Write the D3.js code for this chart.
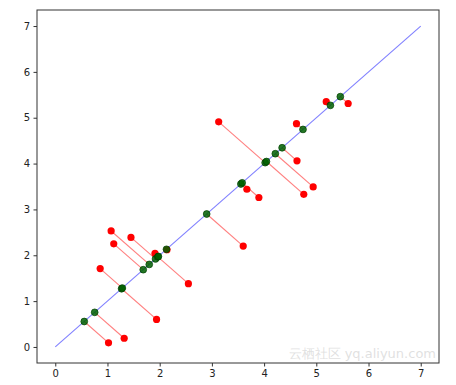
<!DOCTYPE html>
<html>
<head>
<meta charset="utf-8">
<script src="https://cdn.jsdelivr.net/npm/d3@7"></script>
<style>
  body { margin: 0; background: #fff; }
  text { font-family: "DejaVu Sans", sans-serif; }
</style>
</head>
<body>
<div id="chart-area"></div>
<script>
// original points (red)
const xs = [1.02, 1.32, 1.94, 0.86, 1.07, 1.12, 1.45, 2.55, 1.91, 2.14,
            3.60, 3.13, 4.76, 4.94, 4.63, 4.62, 5.19, 5.61, 3.67, 3.90];
const ys = [0.09, 0.19, 0.60, 1.71, 2.53, 2.25, 2.39, 1.38, 2.04, 2.12,
            2.20, 4.91, 3.33, 3.49, 4.06, 4.87, 5.35, 5.31, 3.44, 3.26];
const tickVals = [0, 1, 2, 3, 4, 5, 6, 7];
const lineEnds = [0, 7];

const width = 456;
const height = 385;
const margin = {left: 37, right: 17, top: 10, bottom: 22};

const svg = d3.select("#chart-area")
    .append("svg")
    .attr("width", width)
    .attr("height", height);

const x = d3.scaleLinear().domain([-0.35, 7.35]).range([margin.left, width - margin.right]);
const y = d3.scaleLinear().domain([-0.35, 7.35]).range([height - margin.bottom, margin.top]);

const pts = xs.map((v, i) => {
    const p = (v + ys[i]) / 2;   // projection onto y = x
    return {x: v, y: ys[i], p: p};
});

// projection lines
svg.selectAll(".proj")
    .data(pts)
    .enter()
    .append("line")
    .attr("class", "proj")
    .attr("x1", d => x(d.x))
    .attr("y1", d => y(d.y))
    .attr("x2", d => x(d.p))
    .attr("y2", d => y(d.p))
    .attr("stroke", "red")
    .attr("stroke-opacity", 0.5)
    .attr("stroke-width", 1.1);

// y = x line
svg.append("line")
    .attr("x1", x(lineEnds[0]))
    .attr("y1", y(lineEnds[0]))
    .attr("x2", x(lineEnds[1]))
    .attr("y2", y(lineEnds[1]))
    .attr("stroke", "blue")
    .attr("stroke-opacity", 0.5)
    .attr("stroke-width", 1.1);

svg.selectAll(".orig")
    .data(pts)
    .enter()
    .append("circle")
    .attr("class", "orig")
    .attr("cx", d => x(d.x))
    .attr("cy", d => y(d.y))
    .attr("r", 3.6)
    .attr("fill", "red");

svg.selectAll(".projpt")
    .data(pts)
    .enter()
    .append("circle")
    .attr("class", "projpt")
    .attr("cx", d => x(d.p))
    .attr("cy", d => y(d.p))
    .attr("r", 3.4)
    .attr("fill", "#006000")
    .attr("fill-opacity", 0.85)
    .attr("stroke", "#004000")
    .attr("stroke-width", 0.7);

// axes
const xAxis = svg.append("g")
    .attr("transform", `translate(0,${height - margin.bottom})`)
    .call(d3.axisBottom(x).tickValues(tickVals).tickSize(3.5).tickPadding(3.5).tickFormat(d3.format("d")));
const yAxis = svg.append("g")
    .attr("transform", `translate(${margin.left},0)`)
    .call(d3.axisLeft(y).tickValues(tickVals).tickSize(3.5).tickPadding(3.5).tickFormat(d3.format("d")));

[xAxis, yAxis].forEach(g => {
    g.select(".domain").remove();
    g.selectAll("line").attr("stroke", "#333");
    g.selectAll("text").attr("font-size", 10).attr("fill", "#222")
        .attr("font-family", "DejaVu Sans, sans-serif");
});

// frame
svg.append("rect")
    .attr("x", margin.left)
    .attr("y", margin.top)
    .attr("width", width - margin.left - margin.right)
    .attr("height", height - margin.top - margin.bottom)
    .attr("fill", "none")
    .attr("stroke", "#333")
    .attr("stroke-width", 1);

// watermark
svg.append("text")
    .attr("x", 436)
    .attr("y", 358)
    .attr("text-anchor", "end")
    .attr("font-size", 13)
    .attr("font-family", "Noto Sans CJK SC, sans-serif")
    .attr("fill", "#cccccc")
    .attr("fill-opacity", 0.6)
    .text("云栖社区 yq.aliyun.com");
</script>
</body>
</html>
